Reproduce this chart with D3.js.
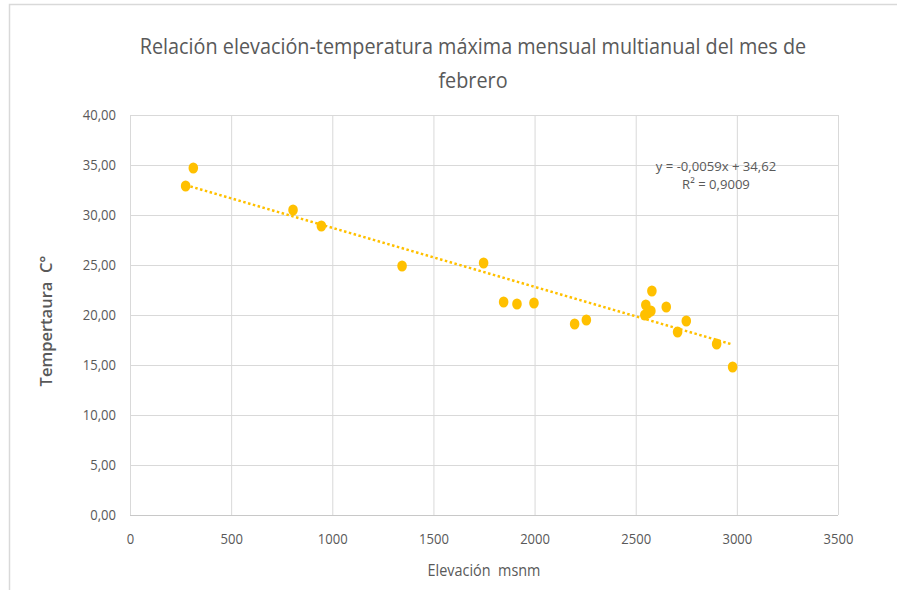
<!DOCTYPE html>
<html>
<head>
<meta charset="utf-8">
<script src="https://cdn.jsdelivr.net/npm/d3@7"></script>
<style>
  body { margin: 0; background: #fff; }
  text { font-family: "Open Sans", "Noto Sans", sans-serif; fill: #595959; white-space: pre; }
</style>
</head>
<body>
<svg id="chart" width="899" height="590"></svg>
<script>
// datos
var elevacion = [275, 313, 806, 946, 1345, 1748, 1847, 1913, 1997, 2198, 2256, 2545, 2550, 2560, 2575, 2580, 2651, 2707, 2750, 2900, 2979]
var temperatura = [32.9, 34.7, 30.5, 28.9, 24.9, 25.2, 21.3, 21.1, 21.2, 19.1, 19.5, 20.0, 21.0, 20.2, 20.4, 22.4, 20.8, 18.3, 19.4, 17.1, 14.8]
var xTicks = [0, 500, 1000, 1500, 2000, 2500, 3000, 3500]
var yTicks = [0, 5, 10, 15, 20, 25, 30, 35, 40]
var pendiente = -0.0059
var intercepto = 34.62
var titulo = ["Relación elevación-temperatura máxima mensual multianual del mes de", "febrero"]
var ecuacion = ["y = -0,0059x + 34,62", "R² = 0,9009"]

// letra estrecha tipo Calibri
function squeeze(k) {
    return sel => sel.each(function () {
        var w = this.getComputedTextLength()
        this.setAttribute("textLength", w * k)
        this.setAttribute("lengthAdjust", "spacingAndGlyphs")
    })
}

var margin = {top: 115, bottom: 75, left: 130, right: 61}
var w = 899 - margin.left - margin.right
var h = 590 - margin.top - margin.bottom

var svg = d3.select("#chart")

// borde del area del grafico
svg.append("path")
    .attr("d", "M9.5,590 V4.5 H897")
    .attr("fill", "none")
    .attr("stroke", "#d9d9d9")
    .attr("stroke-width", 1.5)

var g = svg.append("g").attr("transform", `translate(${margin.left},${margin.top})`)

var x_scale = d3.scaleLinear().domain([0, 3500]).range([0, w])
var y_scale = d3.scaleLinear().domain([0, 40]).range([h, 0])
var fmt = d => d.toFixed(2).replace(".", ",")

var xAxis = g.append("g").attr("transform", `translate(0,${h})`)
    .call(d3.axisBottom(x_scale).tickValues(xTicks).tickSize(-h).tickPadding(18).tickFormat(d3.format("d")))
var yAxis = g.append("g")
    .call(d3.axisLeft(y_scale).tickValues(yTicks).tickSize(-w).tickPadding(14).tickFormat(fmt))

for (const ax of [xAxis, yAxis]) {
    ax.select(".domain").remove()
    ax.selectAll("line").attr("stroke", "#d9d9d9")
    ax.selectAll("text").attr("font-size", 15).attr("font-family", null).call(squeeze(0.87))
}
yAxis.selectAll(".tick line").filter(d => d === 0).attr("stroke", "#c8c8c8")

// linea de tendencia
var xmin = d3.min(elevacion), xmax = d3.max(elevacion)
g.append("line")
    .attr("x1", x_scale(xmin)).attr("y1", y_scale(pendiente * xmin + intercepto))
    .attr("x2", x_scale(xmax)).attr("y2", y_scale(pendiente * xmax + intercepto))
    .attr("stroke", "#ffc000")
    .attr("stroke-width", 2.5)
    .attr("stroke-dasharray", "2.5,2.5")

g.selectAll("ellipse")
    .data(elevacion.map((e, i) => ({x: e, y: temperatura[i]})))
    .join("ellipse")
    .attr("cx", d => x_scale(d.x))
    .attr("cy", d => y_scale(d.y))
    .attr("rx", 4.8)
    .attr("ry", 5.6)
    .attr("fill", "#ffc000")

// titulo
svg.selectAll(".titulo").data(titulo).join("text")
    .attr("class", "titulo")
    .attr("x", 473)
    .attr("y", (d, i) => 54 + i * 34)
    .attr("text-anchor", "middle")
    .attr("font-size", 22)
    .text(d => d)
    .call(squeeze(0.9))

svg.selectAll(".ecuacion").data(ecuacion).join("text")
    .attr("class", "ecuacion")
    .attr("x", 716)
    .attr("y", (d, i) => 171 + i * 18)
    .attr("text-anchor", "middle")
    .attr("font-size", 13.5)
    .text(d => d)
    .call(squeeze(0.97))

svg.append("text")
    .attr("x", 484)
    .attr("y", 576)
    .attr("text-anchor", "middle")
    .attr("font-size", 15.5)
    .text("Elevación  msnm")
    .call(squeeze(0.93))

svg.append("text")
    .attr("transform", "translate(52,321) rotate(-90)")
    .attr("text-anchor", "middle")
    .attr("font-size", 16.5)
    .attr("font-weight", 600)
    .text("Tempertaura  C°")
    .call(squeeze(1))
</script>
</body>
</html>
